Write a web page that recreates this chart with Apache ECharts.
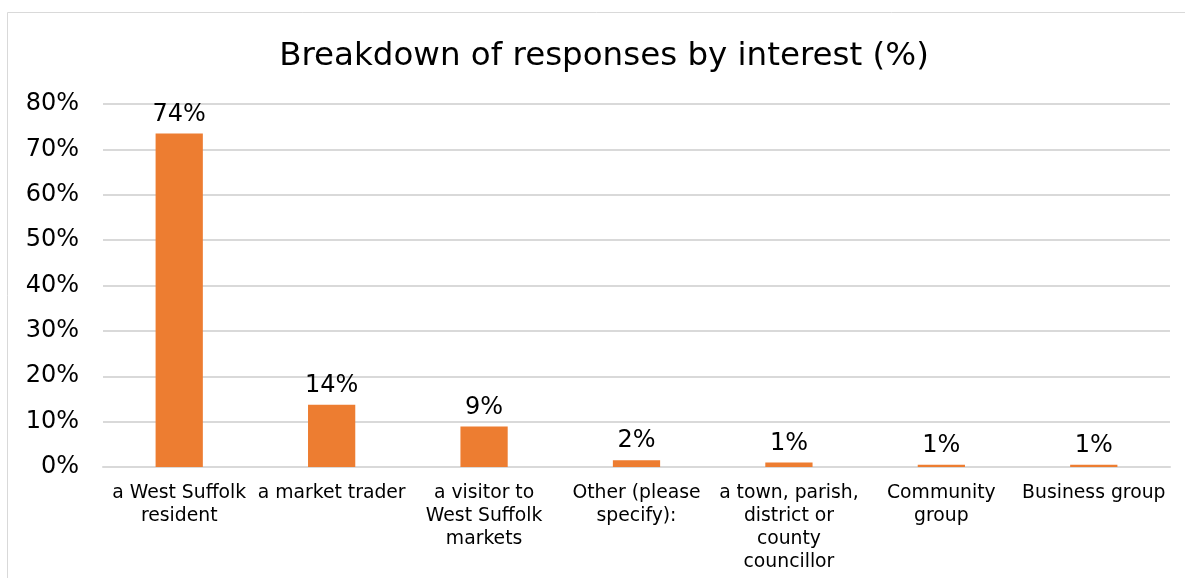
<!DOCTYPE html>
<html>
<head>
<meta charset="utf-8">
<script src="https://cdn.jsdelivr.net/npm/echarts@6/dist/echarts.min.js"></script>
<style>
html,body{margin:0;padding:0;background:#fff;}
#chart{width:1185px;height:578px;}
</style>
</head>
<body>
<div id="chart"></div>
<script>
const title = 'Breakdown of responses by interest (%)';
const categories = [
  'a West Suffolk resident',
  'a market trader',
  'a visitor to West Suffolk markets',
  'Other (please specify):',
  'a town, parish, district or county councillor',
  'Community group',
  'Business group'
];
const categoryLabels = [
  'a West Suffolk\nresident',
  'a market trader',
  'a visitor to\nWest Suffolk\nmarkets',
  'Other (please\nspecify):',
  'a town, parish,\ndistrict or\ncounty\ncouncillor',
  'Community\ngroup',
  'Business group'
];
const values = [73.5, 13.7, 8.9, 1.5, 1.0, 0.5, 0.5];
const yTicks = [0, 10, 20, 30, 40, 50, 60, 70, 80];

const font = 'DejaVu Sans, Verdana, sans-serif';
const chart = echarts.init(document.getElementById('chart'));
chart.setOption({
  animation: false,
  backgroundColor: '#fff',
  graphic: [{
    type: 'rect',
    shape: {x: 7.5, y: 12.5, width: 1400, height: 700},
    style: {fill: 'none', stroke: '#d9d9d9', lineWidth: 1},
    silent: true, z: -1
  }],
  title: {
    text: title,
    left: 599, top: 35, textAlign: 'center',
    textStyle: {fontFamily: font, fontSize: 32.5, fontWeight: 'normal', color: '#000'}
  },
  grid: {left: 103, right: 15, top: 104, bottom: 111, containLabel: false},
  xAxis: {
    type: 'category',
    data: categories,
    axisLine: {show: true, lineStyle: {color: '#d9d9d9', width: 2}},
    axisTick: {show: false},
    axisLabel: {
      interval: 0,
      margin: 15,
      fontFamily: font, fontSize: 18.8, color: '#000', lineHeight: 23,
      formatter: function (v, i) { return categoryLabels[i]; }
    }
  },
  yAxis: {
    type: 'value',
    min: yTicks[0], max: yTicks[yTicks.length - 1], interval: 10,
    axisLine: {show: false},
    axisTick: {show: false},
    splitLine: {lineStyle: {color: '#d9d9d9', width: 2}},
    axisLabel: {
      margin: 24,
      fontFamily: font, fontSize: 24, color: '#000',
      formatter: function (v) { return v + '%'; }
    }
  },
  series: [{
    type: 'bar',
    data: values,
    barWidth: '31%',
    itemStyle: {color: '#ED7D31'},
    label: {
      show: true, position: 'top', distance: 7,
      fontFamily: font, fontSize: 24, color: '#000',
      formatter: function (p) { return Math.round(p.value) + '%'; }
    }
  }]
});
</script>
</body>
</html>
